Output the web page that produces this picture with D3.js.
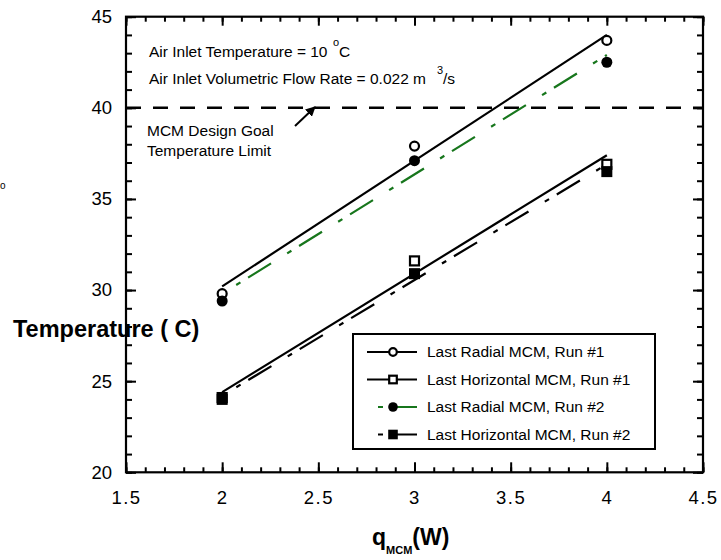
<!DOCTYPE html>
<html>
<head>
<meta charset="utf-8">
<script src="https://cdn.jsdelivr.net/npm/d3@7"></script>
<style>
  body { margin: 0; background: #fff; }
  svg { font-family: "Liberation Sans", Arial, sans-serif; }
  .tick text { font-size: 18.5px; fill: #000; }
  .legend text, .note { font-size: 15.5px; fill: #000; }
</style>
</head>
<body>
<div id="chart-area"></div>
<script>
// heat input q_MCM (W)
const qValues = [2, 3, 4];

// measured temperatures (C)
const radialRun1 = [29.8, 37.9, 43.7];
const horizRun1 = [24.1, 31.6, 36.9];
const radialRun2 = [29.4, 37.1, 42.5];
const horizRun2 = [24.0, 30.9, 36.5];

// straight fit lines, read at q = 2 and q = 4
const fitQ = [2, 4];
const radialRun1Fit = [30.2, 44.0];
const horizRun1Fit = [24.4, 37.4];
const radialRun2Fit = [29.8, 42.9];
const horizRun2Fit = [24.2, 36.9];

const designGoal = 40;

const xTicks = [1.5, 2, 2.5, 3, 3.5, 4, 4.5];
const yTicks = [20, 25, 30, 35, 40, 45];
const legendLabels = [
  "Last Radial MCM, Run #1",
  "Last Horizontal MCM, Run #1",
  "Last Radial MCM, Run #2",
  "Last Horizontal MCM, Run #2"
];

const W = 721, H = 560;
const margin = { top: 16.7, left: 126 };
const width = 577, height = 455.6;
const green = "#17761c";
const dashDot = "5,9,27,19";

const svg = d3.select("#chart-area").append("svg")
  .attr("width", W)
  .attr("height", H);

const x = d3.scaleLinear().domain([1.5, 4.5]).range([0, width]);
const y = d3.scaleLinear().domain([20, 45]).range([height, 0]);

const g = svg.append("g")
  .attr("transform", `translate(${margin.left},${margin.top})`);

// inward ticks on all four sides
const minorX = d3.range(15, 46).map(d => d / 10);
const minorY = d3.range(20, 46);

function addAxis(axis, tr, cls) {
  const a = g.append("g").attr("class", cls).attr("transform", tr).call(axis);
  a.select(".domain").remove();
  a.selectAll("line").attr("stroke", "#000").attr("stroke-width", 2);
  return a;
}

addAxis(d3.axisBottom(x).tickValues(minorX).tickSize(-5).tickFormat(""), `translate(0,${height})`, "minor");
addAxis(d3.axisTop(x).tickValues(minorX).tickSize(-5).tickFormat(""), "translate(0,0)", "minor");
addAxis(d3.axisLeft(y).tickValues(minorY).tickSize(-6).tickFormat(""), "translate(0,0)", "minor");
addAxis(d3.axisRight(y).tickValues(minorY).tickSize(-6).tickFormat(""), `translate(${width},0)`, "minor");

const xAxis = addAxis(d3.axisBottom(x).tickValues(xTicks).tickSize(-10).tickPadding(19).tickFormat(d3.format("")),
  `translate(0,${height})`, "x axis");
xAxis.selectAll("text").style("letter-spacing", "1.5px");
addAxis(d3.axisTop(x).tickValues(xTicks).tickSize(-9).tickFormat(""), "translate(0,0)", "top");
addAxis(d3.axisLeft(y).tickValues(yTicks).tickSize(-10).tickPadding(14), "translate(0,0)", "y axis");
addAxis(d3.axisRight(y).tickValues(yTicks).tickSize(-10).tickFormat(""), `translate(${width},0)`, "right");

g.append("rect")
  .attr("width", width)
  .attr("height", height)
  .attr("fill", "none")
  .attr("stroke", "#000")
  .attr("stroke-width", 2.2);

// design goal limit
g.append("line")
  .attr("x1", 0).attr("x2", width)
  .attr("y1", y(designGoal)).attr("y2", y(designGoal))
  .attr("stroke", "#000")
  .attr("stroke-width", 2.4)
  .attr("stroke-dasharray", "15,12");

// fit lines
const fitLine = d3.line()
  .x((d, i) => x(fitQ[i]))
  .y(d => y(d));

const series = [
  { label: legendLabels[0], vals: radialRun1, fit: radialRun1Fit, color: "#000", dash: null, shape: "circle", open: true },
  { label: legendLabels[1], vals: horizRun1, fit: horizRun1Fit, color: "#000", dash: null, shape: "square", open: true },
  { label: legendLabels[2], vals: radialRun2, fit: radialRun2Fit, color: green, dash: dashDot, shape: "circle", open: false },
  { label: legendLabels[3], vals: horizRun2, fit: horizRun2Fit, color: "#000", dash: dashDot, shape: "square", open: false }
];

series.forEach(s => {
  g.append("path")
    .datum(s.fit)
    .attr("d", fitLine)
    .attr("fill", "none")
    .attr("stroke", s.color)
    .attr("stroke-width", 2.2)
    .attr("stroke-dasharray", s.dash)
    .attr("stroke-dashoffset", s.dash ? 43.5 : null);
});

function marker(sel, s, cx, cy, r) {
  if (s.shape === "circle") {
    sel.append("circle")
      .attr("cx", cx).attr("cy", cy)
      .attr("r", s.open ? r - 1 : r)
      .attr("fill", s.open ? "#fff" : "#000")
      .attr("stroke", "#000")
      .attr("stroke-width", s.open ? 2.2 : 0);
  } else {
    const a = s.open ? r * 2 - 2 : r * 2;
    sel.append("rect")
      .attr("x", cx - a / 2).attr("y", cy - a / 2)
      .attr("width", a).attr("height", a)
      .attr("fill", s.open ? "#fff" : "#000")
      .attr("stroke", "#000")
      .attr("stroke-width", s.open ? 2.2 : 0);
  }
}

// draw points (filled first so open ones sit on top like the original)
[0, 2, 1, 3].forEach(k => {
  const s = series[k];
  s.vals.forEach((v, i) => marker(g, s, x(qValues[i]), y(v), 5.5));
});

// legend
const legend = svg.append("g").attr("class", "legend")
  .attr("transform", "translate(353,334)");

legend.append("rect")
  .attr("width", 302).attr("height", 115)
  .attr("fill", "#fff")
  .attr("stroke", "#000")
  .attr("stroke-width", 2);

series.forEach((s, i) => {
  const row = legend.append("g").attr("transform", `translate(0,${18 + i * 27.5})`);
  row.append("line")
    .attr("x1", 14).attr("x2", 64)
    .attr("stroke", s.color)
    .attr("stroke-width", 2.2)
    .attr("stroke-dasharray", s.dash)
    .attr("stroke-dashoffset", s.dash ? 49 : null);
  marker(row, s, 40, 0, 4.8);
  row.append("text")
    .attr("x", 74).attr("dy", "0.35em")
    .text(s.label);
});

// notes
const notes = svg.append("g");
notes.append("text").attr("class", "note").attr("x", 149).attr("y", 57)
  .text("Air Inlet Temperature = 10");
notes.append("text").attr("class", "note").attr("x", 333).attr("y", 46)
  .style("font-size", "11px").text("o");
notes.append("text").attr("class", "note").attr("x", 339).attr("y", 57)
  .text("C");
notes.append("text").attr("class", "note").attr("x", 149).attr("y", 84)
  .text("Air Inlet Volumetric Flow Rate = 0.022 m");
notes.append("text").attr("class", "note").attr("x", 437).attr("y", 74)
  .style("font-size", "11px").text("3");
notes.append("text").attr("class", "note").attr("x", 443).attr("y", 84)
  .text("/s");
notes.append("text").attr("class", "note").attr("x", 147).attr("y", 136)
  .text("MCM Design Goal");
notes.append("text").attr("class", "note").attr("x", 147).attr("y", 156)
  .text("Temperature Limit");

// arrow to the limit line
svg.append("defs").append("marker")
  .attr("id", "head")
  .attr("viewBox", "0 0 10 10")
  .attr("refX", 9).attr("refY", 5)
  .attr("markerWidth", 5).attr("markerHeight", 5)
  .attr("orient", "auto")
  .append("path")
  .attr("d", "M0,0L10,5L0,10z")
  .attr("fill", "#000");

svg.append("line")
  .attr("x1", 295).attr("y1", 126)
  .attr("x2", 315).attr("y2", 107)
  .attr("stroke", "#000")
  .attr("stroke-width", 2)
  .attr("marker-end", "url(#head)");

// axis titles
svg.append("text")
  .attr("x", 13).attr("y", 337)
  .style("font-size", "23.5px").style("font-weight", "bold")
  .text("Temperature ( C)");
// stray degree sign sitting at the left edge in the original
svg.append("text")
  .attr("x", 0).attr("y", 189)
  .style("font-size", "10px")
  .text("o");

const xt = svg.append("text")
  .attr("x", 372).attr("y", 545)
  .style("font-weight", "bold");
xt.append("tspan").style("font-size", "23px").text("q");
xt.append("tspan").style("font-size", "11px").attr("dy", 9).text("MCM");
xt.append("tspan").style("font-size", "23px").attr("dy", -9).text("(W)");
</script>
</body>
</html>
